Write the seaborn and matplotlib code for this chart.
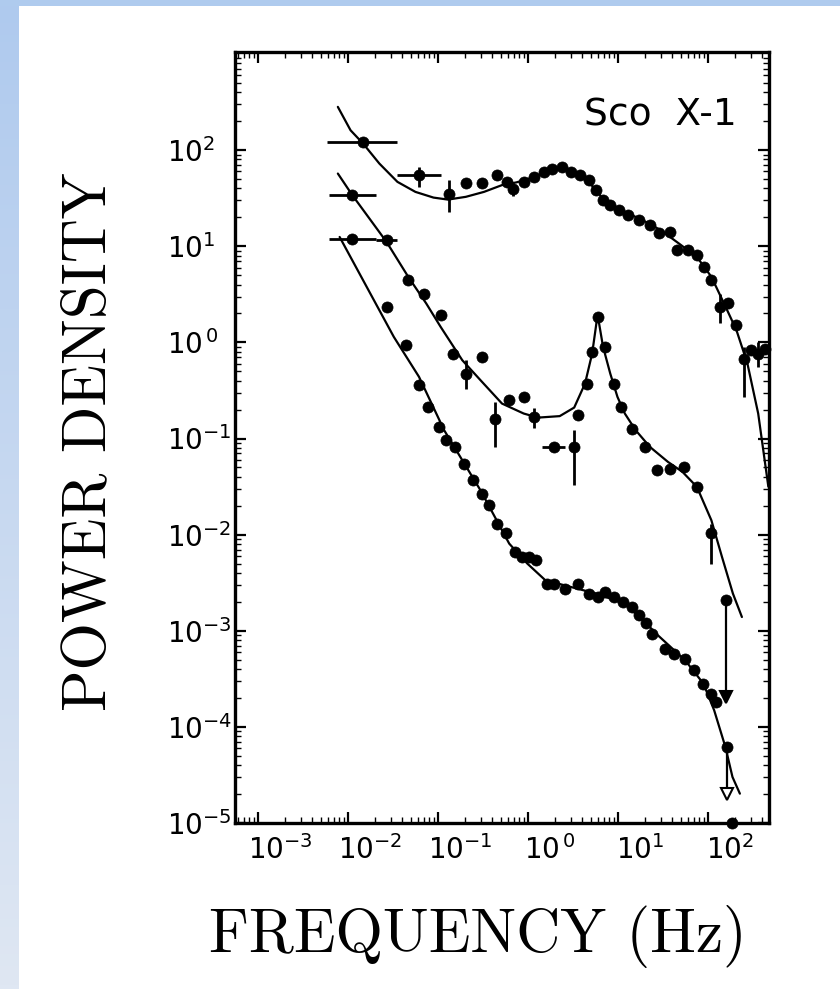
import numpy as np
import matplotlib
matplotlib.use("Agg")
import matplotlib.pyplot as plt
import matplotlib.transforms as mtransforms
from matplotlib.ticker import LogLocator, NullFormatter, FixedLocator
from matplotlib.colors import LinearSegmentedColormap
import seaborn as sns

# ---------------- data ----------------
# Top spectrum
a_freq = [0.0147, 0.0615, 0.131, 0.204, 0.310, 0.448, 0.590, 0.678, 0.895, 1.18,
          1.49, 1.87, 2.36, 2.97, 3.74, 4.71, 5.66, 6.81, 8.20, 10.3,
          13.0, 17.1, 22.6, 28.5, 37.6, 45.2, 59.7, 75.2, 90.4, 109,
          137, 165, 207, 249, 300, 361, 434]
a_power = [122, 55.0, 35.4, 45.0, 45.0, 55.0, 46.8, 39.9, 46.8, 52.7,
           59.4, 64.4, 67.0, 59.4, 55.0, 48.8, 38.4, 30.2, 26.8, 23.7,
           21.0, 18.7, 16.6, 13.6, 14.1, 9.10, 9.10, 8.07, 6.11, 4.44,
           2.34, 2.54, 1.51, 0.679, 0.830, 0.766, 0.863]
# points with horizontal bars: f, p, f_low, f_high
a_xbar_f = [0.0147, 0.0615]
a_xbar_p = [122, 55.0]
a_xbar_lo = [0.00585, 0.0354]
a_xbar_hi = [0.0354, 0.107]
# points with vertical bars: f, p, p_low, p_high
a_ybar_f = [0.0615, 0.131, 0.678, 137, 249, 361]
a_ybar_p = [55.0, 35.4, 39.9, 2.34, 0.679, 0.766]
a_ybar_lo = [41.5, 22.8, 33.0, 1.6, 0.27, 0.55]
a_ybar_hi = [67.0, 48.8, 45.0, 3.2, 0.90, 1.00]
# model
a_model_f = [0.00771, 0.01067, 0.01472, 0.02228, 0.0354, 0.0561, 0.0891, 0.129,
             0.204, 0.324, 0.514, 0.743, 1.18, 1.87, 2.47, 3.26, 4.71, 6.81,
             9.86, 18.8, 29.9, 47.4, 75.2, 109, 157, 207, 274, 361, 468]
a_model_p = [282, 161, 117, 72.6, 46.8, 36.8, 32.1, 30.6,
             32.7, 36.8, 43.3, 46.2, 52.7, 63.0, 67.0, 59.4, 46.8, 31.4,
             24.7, 18.7, 14.7, 10.7, 7.76, 4.81, 2.34, 1.34, 0.603, 0.182, 0.0316]

# Middle spectrum (with QPO)
b_freq = [0.01117, 0.0268, 0.0467, 0.0706, 0.107, 0.148, 0.204, 0.310, 0.428, 0.618,
          0.895, 1.18, 1.96, 3.26, 3.57, 4.50, 5.16, 5.93, 7.14, 9.00,
          10.8, 14.3, 19.7, 27.2, 37.6, 54.5, 75.2, 109, 157]
b_power = [34.0, 11.6, 4.44, 3.22, 1.92, 0.766, 0.474, 0.706, 0.161, 0.251,
           0.271, 0.168, 0.0818, 0.0818, 0.175, 0.373, 0.798, 1.84, 0.900, 0.373,
           0.213, 0.127, 0.0818, 0.0468, 0.0486, 0.0507, 0.0314, 0.0103, 0.00207]
b_xbar_f = [0.01117, 0.0268, 1.96]
b_xbar_p = [34.0, 11.6, 0.0818]
b_xbar_lo = [0.00612, 0.0203, 1.42]
b_xbar_hi = [0.0203, 0.0354, 2.59]
b_ybar_f = [0.204, 0.428, 1.18, 3.26, 109]
b_ybar_p = [0.474, 0.161, 0.168, 0.0818, 0.0103]
b_ybar_lo = [0.33, 0.0818, 0.13, 0.0327, 0.0050]
b_ybar_hi = [0.65, 0.240, 0.21, 0.122, 0.013]
b_limit_f = [157]
b_limit_p = [0.00207]
b_limit_to = [0.000204]
b_model_f = [0.00771, 0.01117, 0.0268, 0.0467, 0.0740, 0.107, 0.186, 0.296, 0.514,
             0.895, 1.29, 2.25, 3.26, 4.30, 5.16, 5.56, 5.93, 6.31, 6.82, 8.20,
             9.86, 11.9, 15.7, 22.6, 35.9, 52.0, 75.2, 109, 143, 189, 238]
b_model_p = [57.1, 34.0, 11.1, 4.81, 2.54, 1.45, 0.653, 0.405, 0.231,
             0.182, 0.165, 0.171, 0.210, 0.373, 0.766, 1.26, 1.95, 1.38, 0.900, 0.474,
             0.271, 0.182, 0.122, 0.0818, 0.0571, 0.0450, 0.0314, 0.0141, 0.00586, 0.00244, 0.00139]

# Lower spectrum
c_freq = [0.0112, 0.0268, 0.0446, 0.0615, 0.0774, 0.102, 0.123, 0.155, 0.195, 0.246,
          0.310, 0.372, 0.448, 0.564, 0.711, 0.855, 1.03, 1.24, 1.63, 1.96,
          2.59, 3.57, 4.71, 5.93, 7.14, 9.00, 11.3, 14.3, 17.1, 20.7,
          24.1, 33.4, 42.2, 55.7, 70.5, 88.9, 107, 123, 163, 187]
c_power = [12.0, 2.34, 0.936, 0.359, 0.213, 0.132, 0.0959, 0.0818, 0.0548, 0.0368,
           0.0267, 0.0202, 0.0130, 0.0103, 0.00661, 0.00586, 0.00586, 0.00541, 0.00309, 0.00309,
           0.00274, 0.00309, 0.00244, 0.00225, 0.00254, 0.00225, 0.00200, 0.00177, 0.00145, 0.00119,
           0.000933, 0.000652, 0.000578, 0.000513, 0.000388, 0.000282, 0.000222, 0.000182, 6.18e-5, 1.0e-5]
c_xbar_f = [0.0112]
c_xbar_p = [12.0]
c_xbar_lo = [0.00612]
c_xbar_hi = [0.0203]
c_limit_f = [163]
c_limit_p = [6.18e-5]
c_limit_to = [2.02e-5]
c_model_f = [0.00807, 0.0323, 0.0615, 0.117, 0.296, 0.618, 0.982, 1.56, 2.97, 5.68,
             11.9, 20.7, 26.5, 55.7, 88.9, 117, 156, 187, 226]
c_model_p = [12.5, 1.14, 0.438, 0.122, 0.0290, 0.00807, 0.00500, 0.00335, 0.00286, 0.00244,
             0.00191, 0.00119, 0.000933, 0.000493, 0.000282, 0.000149, 6.18e-5, 3.01e-5, 2.02e-5]

x_ticks = [1e-3, 1e-2, 1e-1, 1e0, 1e1, 1e2]
x_ticklabels = [r"$10^{-3}$", r"$10^{-2}$", r"$10^{-1}$", r"$10^{\,0}$", r"$10^{1}$", r"$10^{2}$"]
y_ticks = [1e-5, 1e-4, 1e-3, 1e-2, 1e-1, 1e0, 1e1, 1e2]
y_ticklabels = [r"$10^{-5}$", r"$10^{-4}$", r"$10^{-3}$", r"$10^{-2}$", r"$10^{-1}$",
                r"$10^{\,0}$", r"$10^{1}$", r"$10^{2}$"]

# ---------------- style ----------------
sns.set_theme(style="ticks")
plt.rcParams["font.family"] = ["DejaVu Sans"]
plt.rcParams["mathtext.fontset"] = "dejavusans"

W, H = 840, 989
fig = plt.figure(figsize=(W / 100, H / 100), dpi=100)
fig.patch.set_facecolor("white")

# light-blue slide background strips
left_strip = fig.add_axes([0, 0, 19 / W, 1])
grad = np.linspace(0, 1, 256).reshape(-1, 1)
cm = LinearSegmentedColormap.from_list("strip", ["#afcaee", "#dfe7f3"])
left_strip.imshow(grad, aspect="auto", cmap=cm, extent=[0, 1, 0, 1], origin="upper")
left_strip.set_axis_off()
top_strip = fig.add_axes([0, 1 - 6 / H, 1, 6 / H])
top_strip.set_facecolor("#afcbee")
top_strip.set_xticks([]); top_strip.set_yticks([])
for s in top_strip.spines.values():
    s.set_visible(False)

ax = fig.add_axes([235 / W, 1 - 823 / H, 534 / W, 771 / H])
ax.set_xscale("log")
ax.set_yscale("log")
ax.set_xlim(5.55e-4, 476)
ax.set_ylim(1e-5, 1.05e3)

lw_model = 1.6
for mf, mp in [(a_model_f, a_model_p), (b_model_f, b_model_p), (c_model_f, c_model_p)]:
    sns.lineplot(x=mf, y=mp, ax=ax, color="black", lw=lw_model, sort=False,
                 estimator=None, legend=False)

def xbars(f, p, lo, hi):
    f = np.asarray(f); lo = np.asarray(lo); hi = np.asarray(hi)
    ax.errorbar(f, p, xerr=[f - lo, hi - f], fmt="none", ecolor="black",
                elinewidth=2.0, capsize=0, zorder=3)

def ybars(f, p, lo, hi):
    p = np.asarray(p); lo = np.asarray(lo); hi = np.asarray(hi)
    ax.errorbar(f, p, yerr=[p - lo, hi - p], fmt="none", ecolor="black",
                elinewidth=2.0, capsize=0, zorder=3)

xbars(a_xbar_f, a_xbar_p, a_xbar_lo, a_xbar_hi)
ybars(a_ybar_f, a_ybar_p, a_ybar_lo, a_ybar_hi)
xbars(b_xbar_f, b_xbar_p, b_xbar_lo, b_xbar_hi)
ybars(b_ybar_f, b_ybar_p, b_ybar_lo, b_ybar_hi)
xbars(c_xbar_f, c_xbar_p, c_xbar_lo, c_xbar_hi)

# upper limits (bar downward ending in a triangle)
for lf, lp, lt, filled in [(b_limit_f, b_limit_p, b_limit_to, True),
                           (c_limit_f, c_limit_p, c_limit_to, False)]:
    lp_a = np.asarray(lp); lt_a = np.asarray(lt)
    ax.errorbar(lf, lp, yerr=[lp_a - lt_a, np.zeros_like(lp_a)], fmt="none",
                ecolor="black", elinewidth=1.6, capsize=0, zorder=3)
    ax.plot(lf, lt, ls="none", marker="v", ms=9,
            mfc="black" if filled else "white", mec="black", mew=1.5, zorder=4)

# data points
for df, dp in [(a_freq, a_power), (b_freq, b_power), (c_freq, c_power)]:
    sns.scatterplot(x=df, y=dp, ax=ax, color="black", s=64, marker="o",
                    edgecolor="black", linewidth=0.5, legend=False, zorder=5,
                    clip_on=False)

# axes / ticks
for s in ax.spines.values():
    s.set_linewidth(2.4)
    s.set_color("black")
ax.xaxis.set_major_locator(FixedLocator(x_ticks))
ax.set_xticklabels(x_ticklabels)
ax.yaxis.set_major_locator(FixedLocator(y_ticks))
ax.set_yticklabels(y_ticklabels)
ax.xaxis.set_minor_locator(LogLocator(base=10, subs=np.arange(2, 10), numticks=100))
ax.yaxis.set_minor_locator(LogLocator(base=10, subs=np.arange(2, 10), numticks=100))
ax.xaxis.set_minor_formatter(NullFormatter())
ax.yaxis.set_minor_formatter(NullFormatter())
ax.tick_params(which="both", direction="in", top=True, right=True, color="black")
ax.tick_params(which="major", length=8, width=1.6, labelsize=20, labelcolor="black")
ax.tick_params(which="minor", length=4, width=1.0)
ax.tick_params(axis="x", which="major", pad=9)
ax.tick_params(axis="y", which="major", pad=49)
for lab in ax.get_yticklabels():
    lab.set_horizontalalignment("left")
shift = mtransforms.ScaledTranslation(0.22, 0, fig.dpi_scale_trans)
for lab in ax.get_xticklabels():
    lab.set_transform(lab.get_transform() + shift)

ax.text(0.940, 0.918, "Sco  X-1", transform=ax.transAxes, ha="right", va="center",
        fontsize=27, color="black", family=["DejaVu Sans"])

fig.text(90 / W, 1 - 442 / H, "POWER DENSITY", rotation=90, ha="center", va="center",
         fontsize=44, family=["cmr10", "DejaVu Serif"], color="black")
fig.text(478 / W, 1 - 937 / H, "FREQUENCY (Hz)", ha="center", va="center",
         fontsize=44, family=["cmr10", "DejaVu Serif"], color="black")

fig.savefig("out.png", dpi=100, facecolor="white")
